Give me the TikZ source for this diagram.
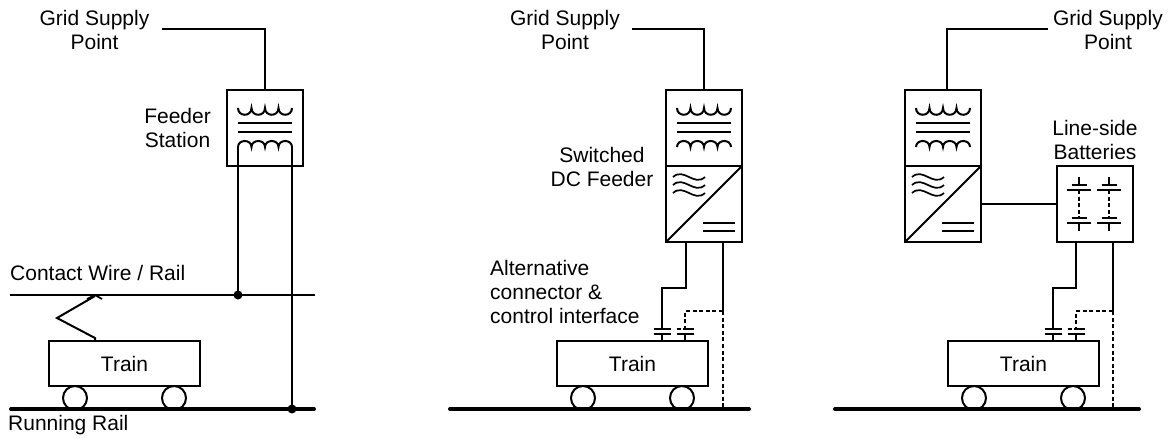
\documentclass[tikz,border=0pt]{standalone}
\usepackage{fontspec}
\setmainfont{Liberation Sans}
\usetikzlibrary{positioning}
\tikzset{
  basebox/.style={rectangle,draw=black,line width=2pt,outer sep=0pt,inner sep=0pt},
  stationbox/.style={basebox,minimum width=76pt,minimum height=76pt},
  trainbox/.style={basebox,minimum width=151pt,minimum height=45pt,font=\fontsize{21}{24}\selectfont},
  wheelnode/.style={circle,draw=black,line width=2pt,fill=white,minimum size=24pt,inner sep=0pt,outer sep=0pt},
  dotnode/.style={circle,fill=black,minimum size=9pt,inner sep=0pt,outer sep=0pt},
  lbl/.style={align=center,inner sep=0pt,font=\fontsize{21}{24}\selectfont},
  lblleft/.style={lbl,align=left},
  wire/.style={line width=2pt,draw=black},
  thinwire/.style={line width=1.7pt,draw=black},
  dashwire/.style={line width=1.8pt,draw=black,dash pattern=on 4pt off 2.6pt},
  rail/.style={line width=4pt,draw=black,line cap=round},
  symline/.style={line width=1.7pt,draw=black},
  % transformer, origin at centre of its box
  trafosym/.pic={
    \draw[symline,line width=2pt] (-27,-20) .. controls (-27,-11) and (-13.5,-11) .. (-13.5,-20)
      .. controls (-13.5,-11) and (0,-11) .. (0,-20)
      .. controls (0,-11) and (13.5,-11) .. (13.5,-20)
      .. controls (13.5,-11) and (27,-11) .. (27,-20);
    \draw[symline] (-27,-5) -- (27,-5);
    \draw[symline] (-27,4) -- (27,4);
    \draw[symline,line width=2pt] (-27,19) .. controls (-27,11) and (-13.5,11) .. (-13.5,19)
      .. controls (-13.5,11) and (0,11) .. (0,19)
      .. controls (0,11) and (13.5,11) .. (13.5,19)
      .. controls (13.5,11) and (27,11) .. (27,19);
  },
  % rectifier marks, origin at centre of its box
  convsym/.pic={
    \draw[symline] (-31,-27) .. controls (-20,-37) and (-10,-17) .. (1,-27);
    \draw[symline] (-31,-19) .. controls (-20,-29) and (-10,-9) .. (1,-19);
    \draw[symline] (-31,-11) .. controls (-20,-21) and (-10,-1) .. (1,-11);
    \draw[symline] (-1,19) -- (31,19);
    \draw[symline] (-1,27) -- (31,27);
  },
  cellsym/.pic={
    \draw[symline] (0,-27) -- (0,-19);
    \draw[symline] (-7.5,-19) -- (7.5,-19);
    \draw[symline] (-12,-14) -- (12,-14);
    \draw[dashwire,line width=1.5pt] (0,-14) -- (0,14);
    \draw[symline] (-7.5,14) -- (7.5,14);
    \draw[symline] (-12,19) -- (12,19);
    \draw[symline] (0,19) -- (0,27);
  },
  plugsym/.pic={
    \draw[symline] (-8.5,0) -- (8.5,0);
    \draw[symline] (-8.5,5) -- (8.5,5);
  },
  plugdashsym/.pic={
    \draw[symline,dash pattern=on 4pt off 2pt on 12pt off 0pt] (-8.5,0) -- (8.5,0);
    \draw[symline] (-8.5,5) -- (8.5,5);
  }
}
\begin{document}
\begin{tikzpicture}[x=1pt,y=-1pt]
  \useasboundingbox (0,0) rectangle (1168,437);

  % left: feeder station
  \node[lbl] (gsp1) at (94.5,30) {Grid Supply\\Point};
  \node[stationbox] (fs1) at (265,128) {};
  \pic at (fs1.center) {trafosym};
  \node[lbl,left=16pt of fs1] (fsl1) {Feeder\\Station};
  \node[trainbox] (tr1) at (124.5,363.5) {Train};
  \node[wheelnode] (wa1) at (75,398) {};
  \node[wheelnode] (wb1) at (174,398) {};
  \node[dotnode] (dotw1) at (238,295) {};
  \node[dotnode] (dotr1) at (292,409) {};
  \node[lblleft,anchor=west] (cwl1) at (10,273) {Contact Wire / Rail};
  \node[lblleft,anchor=west] (rrl1) at (8,425) {Running Rail};
  \coordinate (cwa1) at (10,295);
  \coordinate (cwb1) at (315,295);
  \coordinate (rla1) at (11,409);
  \coordinate (rlb1) at (314,409);
  \coordinate (panbase) at (95,341);
  \coordinate (pantop) at (95,296);

  \draw[wire] ([xshift=12pt,yshift=1pt]gsp1.east) -| (fs1.north);
  \draw[wire] ([xshift=-27pt,yshift=-19pt]fs1.center) -- (dotw1);
  \draw[wire] ([xshift=27pt,yshift=-19pt]fs1.center) -- (dotr1);
  \draw[thinwire] (cwa1) -- (cwb1);
  \draw[rail] (rla1) -- (rlb1);
  \draw[wire] (panbase) -- ++(0,-3) -- (57,318) -- (pantop);
  \draw[thinwire] (87,299) -- (95,295) -- (102,299);

  % middle: switched DC feeder
  \node[lbl] (gsp2) at (565,30) {Grid Supply\\Point};
  \node[stationbox] (fs2) at (704,128) {};
  \pic at (fs2.center) {trafosym};
  \node[stationbox,below=0pt of fs2] (dc2) {};
  \pic at (dc2.center) {convsym};
  \node[lbl] (dcl2) at (602,167) {Switched\\DC Feeder};
  \node[lblleft,anchor=west] (alt2) at (490,292) {Alternative\\connector \&\\control interface};
  \node[trainbox] (tr2) at (632.5,363.5) {Train};
  \node[wheelnode] (wa2) at (583,398) {};
  \node[wheelnode] (wb2) at (682,398) {};
  \coordinate (pa2) at (662,329);
  \coordinate (pb2) at (685,329);
  \coordinate (tap2) at (723,311);
  \coordinate (rla2) at (450,409);
  \coordinate (rlb2) at (749,409);
  \pic at (pa2) {plugsym};
  \pic at (pb2) {plugdashsym};

  \draw[wire] ([xshift=12pt,yshift=1pt]gsp2.east) -| (fs2.north);
  \draw[wire] (dc2.south west) -- (dc2.north east);
  \draw[wire] ([xshift=-18pt]dc2.south) -- ++(0,46) -| (pa2);
  \draw[wire] ([xshift=19pt]dc2.south) -- (tap2);
  \draw[dashwire] (tap2) -| (pb2);
  \draw[dashwire] (tap2) -- (tap2 |- rlb2);
  \draw[wire] ([yshift=-5pt]pa2) -- (pa2 |- tr2.north);
  \draw[wire] ([yshift=-5pt]pb2) -- (pb2 |- tr2.north);
  \draw[rail] (rla2) -- (rlb2);

  % right: line-side batteries
  \node[lbl] (gsp3) at (1108,30) {Grid Supply\\Point};
  \node[stationbox] (fs3) at (943,128) {};
  \pic at (fs3.center) {trafosym};
  \node[stationbox,below=0pt of fs3] (dc3) {};
  \pic at (dc3.center) {convsym};
  \node[stationbox] (bat3) at (1095,204) {};
  \pic at ([xshift=-16pt]bat3.center) {cellsym};
  \pic at ([xshift=14pt]bat3.center) {cellsym};
  \node[lbl,above=6pt of bat3] (batl3) {Line-side\\Batteries};
  \node[trainbox] (tr3) at (1023.5,363.5) {Train};
  \node[wheelnode] (wa3) at (974,398) {};
  \node[wheelnode] (wb3) at (1073,398) {};
  \coordinate (pa3) at (1053,329);
  \coordinate (pb3) at (1076,329);
  \coordinate (tap3) at (1113,311);
  \coordinate (rla3) at (835,409);
  \coordinate (rlb3) at (1139,409);
  \pic at (pa3) {plugsym};
  \pic at (pb3) {plugdashsym};

  \draw[wire] ([xshift=-5pt,yshift=1pt]gsp3.west) -| ([xshift=4pt]fs3.north);
  \draw[wire] (dc3.south west) -- (dc3.north east);
  \draw[wire] (dc3) -- (bat3);
  \draw[wire] ([xshift=-19pt]bat3.south) -- ++(0,46) -| (pa3);
  \draw[wire] ([xshift=18pt]bat3.south) -- (tap3);
  \draw[dashwire] (tap3) -| (pb3);
  \draw[dashwire] (tap3) -- (tap3 |- rlb3);
  \draw[wire] ([yshift=-5pt]pa3) -- (pa3 |- tr3.north);
  \draw[wire] ([yshift=-5pt]pb3) -- (pb3 |- tr3.north);
  \draw[rail] (rla3) -- (rlb3);
\end{tikzpicture}
\end{document}
